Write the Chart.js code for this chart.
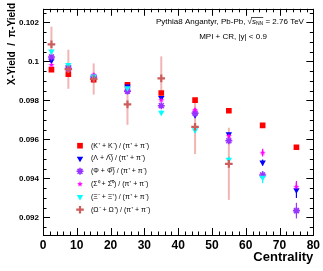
<!DOCTYPE html>
<html>
<head>
<meta charset="utf-8">
<script src="https://cdn.jsdelivr.net/npm/chart.js@4"></script>
<style>
body { margin: 0; background: #fff; }
</style>
</head>
<body>
<canvas id="myChart" width="323" height="271"></canvas>
<script>
// centrality bins (%)
const centrality = [2.5, 7.5, 15, 25, 35, 45, 55, 65, 75]

// X-yield / pi-yield
const kaon   = [0.09958, 0.09935, 0.09907, 0.0988, 0.09838, 0.09802, 0.09747, 0.09672, 0.0956]
const lambda = [0.10005, 0.0997, 0.0992, 0.09872, 0.09813, 0.09725, 0.09627, 0.09482, 0.0934]
const phi    = [0.10023, 0.09965, 0.0992, 0.09848, 0.09773, 0.09735, 0.09593, 0.09418, 0.09235]
const sigma  = [0.09982, 0.0996, 0.09932, 0.0986, 0.09802, 0.09752, 0.09618, 0.09532, 0.09357]
const xi     = [0.10052, 0.09982, 0.09923, 0.09863, 0.09738, 0.09648, 0.09497, 0.09405, null]
const omega  = [0.10088, 0.0996, 0.0991, 0.0978, 0.09913, 0.09665, 0.09475, null, null]

const kaonErr   = [0.00003, 0.00003, 0.00003, 0.00003, 0.00003, 0.00003, 0.00003, 0.00003, 0.00003]
const lambdaErr = [0.00005, 0.00005, 0.00005, 0.00006, 0.00006, 0.0001, 0.0001, 0.00015, 0.0004]
const phiErr    = [0.00008, 0.00008, 0.00008, 0.0001, 0.0001, 0.00012, 0.00012, 0.0002, 0.0004]
const sigmaErr  = [0.00005, 0.00005, 0.00005, 0.00006, 0.00008, 0.0001, 0.0001, 0.0002, 0.0003]
const xiErr     = [0.00006, 0.00006, 0.00006, 0.00008, 0.0001, 0.00012, 0.00015, 0.0003, 0]
const omegaErr  = [0.0009, 0.001, 0.0008, 0.00105, 0.00113, 0.0014, 0.00185, 0, 0]

const labels = [
  '(K\u207A + K\u207B) / (\u03C0\u207A + \u03C0\u207B)',
  '(\u039B + \u039B\u0305) / (\u03C0\u207A + \u03C0\u207B)',
  '(\u03A6 + \u03A6\u0305) / (\u03C0\u207A + \u03C0\u207B)',
  '(\u03A3\u2070 + \u03A3\u0305\u2070) / (\u03C0\u207A + \u03C0\u207B)',
  '(\u039E\u207B + \u039E\u207A) / (\u03C0\u207A + \u03C0\u207B)',
  '(\u03A9\u207B + \u03A9\u207A) / (\u03C0\u207A + \u03C0\u207B)'
]

// filled five point star for the sigma markers
function makeStar(color, r) {
  const c = document.createElement('canvas')
  c.width = c.height = r * 2 + 2
  const g = c.getContext('2d')
  g.fillStyle = color
  g.beginPath()
  for (let i = 0; i < 10; i++) {
    const rr = i % 2 == 0 ? r : r * 0.45
    const a = -Math.PI / 2 + i * Math.PI / 5
    g.lineTo(r + 1 + rr * Math.cos(a), r + 1 + rr * Math.sin(a))
  }
  g.closePath()
  g.fill()
  return c
}

function toPoints(vals) {
  const out = []
  for (var i = 0; i < centrality.length; i++) {
    out.push({x: centrality[i], y: vals[i]})
  }
  return out
}

const datasets = [
  {label: labels[0], data: toPoints(kaon), err: kaonErr, errColor: '#ff0000', backgroundColor: '#ff0000', borderColor: '#ff0000', pointStyle: 'rect', pointRadius: 4, borderWidth: 0, order: 6},
  {label: labels[1], data: toPoints(lambda), err: lambdaErr, errColor: '#0000ff', backgroundColor: '#0000ff', borderColor: '#0000ff', pointStyle: 'triangle', rotation: 180, pointRadius: 3.7, borderWidth: 0, order: 5},
  {label: labels[2], data: toPoints(phi), err: phiErr, errColor: '#9933ff', backgroundColor: '#9933ff', borderColor: '#9933ff', pointStyle: 'star', pointRadius: 3.5, borderWidth: 1.6, order: 4},
  {label: labels[3], data: toPoints(sigma), err: sigmaErr, errColor: '#ff00ff', backgroundColor: '#ff00ff', borderColor: '#ff00ff', pointStyle: makeStar('#ff00ff', 3), pointRadius: 3, borderWidth: 0, order: 3},
  {label: labels[4], data: toPoints(xi), err: xiErr, errColor: '#00ffff', backgroundColor: '#00ffff', borderColor: '#00ffff', pointStyle: 'triangle', rotation: 180, pointRadius: 3.7, borderWidth: 0, order: 2},
  {label: labels[5], data: toPoints(omega), err: omegaErr, errColor: 'rgba(232,120,120,0.55)', backgroundColor: '#cd5c5c', borderColor: '#cd5c5c', pointStyle: 'cross', pointRadius: 3.8, borderWidth: 2.2, order: 1}
]

const font = 'Liberation Sans'

// error bars under the markers
const errorBars = {
  id: 'errorBars',
  beforeDatasetsDraw(chart) {
    const c = chart.ctx
    const xs = chart.scales.x, ys = chart.scales.y
    c.save()
    chart.data.datasets.forEach(function(ds) {
      c.strokeStyle = ds.errColor
      c.lineWidth = ds.order == 1 ? 2 : 1.2
      ds.data.forEach(function(p, i) {
        if (p.y == null || !ds.err[i]) return
        const px = xs.getPixelForValue(p.x)
        c.beginPath()
        c.moveTo(px, ys.getPixelForValue(p.y - ds.err[i]))
        c.lineTo(px, ys.getPixelForValue(p.y + ds.err[i]))
        c.stroke()
      })
    })
    c.restore()
  }
}

// frame, inward ticks, texts and legend
const decor = {
  id: 'decor',
  afterDraw(chart) {
    const c = chart.ctx
    const a = chart.chartArea
    const xs = chart.scales.x, ys = chart.scales.y
    c.save()
    c.strokeStyle = '#000'
    c.lineWidth = 1
    c.strokeRect(Math.round(a.left) + 0.5, Math.round(a.top) + 0.5, Math.round(a.right - a.left), Math.round(a.bottom - a.top))

    c.beginPath()
    for (let v = 0; v <= 80; v += 2) {
      const px = Math.round(xs.getPixelForValue(v)) + 0.5
      const len = v % 10 == 0 ? 7 : 3.5
      c.moveTo(px, a.bottom); c.lineTo(px, a.bottom - len)
      c.moveTo(px, a.top); c.lineTo(px, a.top + len)
    }
    for (let k = 183; k <= 205; k++) {
      const v = k * 0.0005
      const py = Math.round(ys.getPixelForValue(v)) + 0.5
      const len = k % 4 == 0 ? 7 : 3.5
      c.moveTo(a.left, py); c.lineTo(a.left + len, py)
      c.moveTo(a.right, py); c.lineTo(a.right - len, py)
    }
    c.stroke()

    c.fillStyle = '#000'
    // axis titles
    c.font = 'bold 13px "' + font + '"'
    c.textAlign = 'right'
    c.textBaseline = 'middle'
    c.fillText('Centrality', a.right, 257)
    c.save()
    c.translate(12, 3)
    c.rotate(-Math.PI / 2)
    c.font = 'bold 10px "' + font + '"'
    c.textAlign = 'right'
    c.fillText('X-Yield  /  \u03C0-Yield', 0, 0)
    c.restore()

    // header text
    c.textAlign = 'left'
    c.font = '8px "' + font + '"'
    let tx = 156
    const ty = 22
    const part1 = 'Pythia8 Angantyr, Pb-Pb, '
    c.fillText(part1, tx, ty)
    tx += c.measureText(part1).width
    c.fillText('\u221A', tx, ty)
    tx += c.measureText('\u221A').width
    const barStart = tx
    c.font = 'italic 8px "' + font + '"'
    c.fillText('s', tx, ty)
    tx += c.measureText('s').width
    c.font = '5px "' + font + '"'
    c.fillText('NN', tx, ty + 2)
    tx += c.measureText('NN').width
    c.beginPath()
    c.lineWidth = 0.7
    c.moveTo(barStart - 1, ty - 4.5); c.lineTo(tx, ty - 4.5)
    c.stroke()
    c.font = '8px "' + font + '"'
    c.fillText(' = 2.76 TeV', tx, ty)
    c.textAlign = 'center'
    c.fillText('MPI + CR, |y| < 0.9', 233, 37)

    // legend
    c.textAlign = 'left'
    chart.data.datasets.forEach(function(ds, i) {
      const ly = 145.7 + 12.8 * i
      c.fillStyle = ds.backgroundColor
      c.strokeStyle = ds.borderColor
      c.lineWidth = ds.borderWidth
      Chart.helpers.drawPoint(c, {pointStyle: ds.pointStyle, radius: ds.pointRadius, rotation: ds.rotation || 0, borderWidth: ds.borderWidth}, 80, ly)
      c.fillStyle = '#000'
      c.font = '7px "' + font + '"'
      c.fillText(ds.label, 91, ly)
    })
    c.restore()
  }
}

var ctx = document.getElementById('myChart')
var myChart = new Chart(ctx, {
  type: 'scatter',
  data: {datasets: datasets},
  options: {
    responsive: false,
    animation: false,
    layout: {padding: {top: 4, right: 8, left: 0, bottom: 0}},
    plugins: {legend: {display: false}, tooltip: {enabled: false}},
    scales: {
      x: {
        type: 'linear', min: 0, max: 80,
        afterFit: function(s) { s.height = 36 },
        grid: {display: false, drawTicks: false},
        border: {display: false},
        ticks: {stepSize: 10, padding: 3, color: '#000', font: {family: font, size: 12, weight: 'bold'}, maxRotation: 0}
      },
      y: {
        type: 'linear', min: 0.0911, max: 0.1027,
        afterFit: function(s) { s.width = 43 },
        grid: {display: false, drawTicks: false},
        border: {display: false},
        ticks: {
          stepSize: 0.0005, autoSkip: false, padding: 4, color: '#000',
          font: {family: font, size: 8, weight: 'bold'},
          callback: function(v) {
            const k = Math.round(v / 0.002)
            if (Math.abs(k * 0.002 - v) > 1e-7) return ''
            return String(Number((k * 0.002).toFixed(4)))
          }
        }
      }
    }
  },
  plugins: [errorBars, decor]
})
</script>
</body>
</html>
